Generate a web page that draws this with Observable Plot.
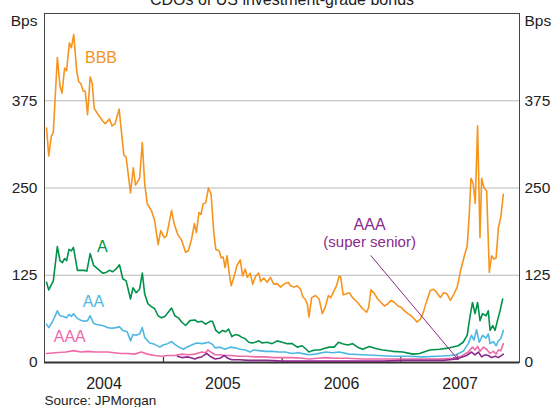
<!DOCTYPE html>
<html>
<head>
<meta charset="utf-8">
<script src="https://cdn.jsdelivr.net/npm/d3@7"></script>
<script src="https://cdn.jsdelivr.net/npm/@observablehq/plot@0.6"></script>
<style>
  html, body { margin: 0; padding: 0; background: #fff; }
  #chart svg { display: block; }
</style>
</head>
<body>
<div id="chart"></div>
<script>
// Decimal-year dates and spreads (bps)
const BBB = [[2004.017,336],[2004.036,296],[2004.057,324],[2004.074,330],[2004.108,437],[2004.130,396],[2004.147,386],[2004.169,422],[2004.186,418],[2004.209,458],[2004.226,451],[2004.246,470],[2004.271,417],[2004.288,402],[2004.305,400],[2004.325,389],[2004.342,389],[2004.362,355],[2004.384,409],[2004.401,400],[2004.418,364],[2004.447,356],[2004.489,346],[2004.511,342],[2004.545,349],[2004.568,339],[2004.593,342],[2004.627,363],[2004.667,297],[2004.686,294],[2004.723,243],[2004.746,279],[2004.765,254],[2004.799,264],[2004.822,315],[2004.842,256],[2004.864,227],[2004.898,218],[2004.926,203],[2004.955,169],[2004.977,189],[2005.006,179],[2005.025,181],[2005.045,198],[2005.068,218],[2005.091,198],[2005.119,184],[2005.153,175],[2005.186,158],[2005.209,160],[2005.237,177],[2005.260,199],[2005.277,186],[2005.299,215],[2005.316,212],[2005.333,227],[2005.356,229],[2005.379,250],[2005.401,241],[2005.424,186],[2005.441,162],[2005.469,160],[2005.486,150],[2005.503,151],[2005.519,136],[2005.536,153],[2005.553,129],[2005.570,110],[2005.593,122],[2005.619,139],[2005.647,147],[2005.667,124],[2005.689,134],[2005.706,122],[2005.731,128],[2005.752,112],[2005.774,123],[2005.803,128],[2005.819,116],[2005.845,121],[2005.873,115],[2005.901,122],[2005.930,112],[2005.958,113],[2005.986,108],[2006.014,112],[2006.051,115],[2006.070,110],[2006.099,108],[2006.127,110],[2006.155,105],[2006.175,94],[2006.192,91],[2006.212,84],[2006.226,65],[2006.248,93],[2006.282,96],[2006.311,91],[2006.339,70],[2006.362,79],[2006.390,96],[2006.409,93],[2006.438,103],[2006.458,110],[2006.481,124],[2006.494,122],[2006.514,97],[2006.536,98],[2006.565,100],[2006.593,93],[2006.636,86],[2006.678,77],[2006.712,72],[2006.729,79],[2006.748,104],[2006.777,99],[2006.805,91],[2006.833,86],[2006.862,81],[2006.890,84],[2006.918,89],[2006.947,86],[2006.975,81],[2007.003,79],[2007.031,74],[2007.059,70],[2007.087,67],[2007.116,62],[2007.136,58],[2007.164,62],[2007.186,70],[2007.220,89],[2007.248,103],[2007.277,105],[2007.305,100],[2007.333,93],[2007.362,100],[2007.390,98],[2007.418,89],[2007.447,98],[2007.475,108],[2007.503,131],[2007.531,150],[2007.559,167],[2007.576,210],[2007.591,264],[2007.610,256],[2007.627,228],[2007.647,339],[2007.667,179],[2007.681,264],[2007.701,250],[2007.723,246],[2007.746,129],[2007.765,153],[2007.786,148],[2007.803,150],[2007.822,193],[2007.842,208],[2007.864,241]];

const A = [[2004.017,115],[2004.036,104],[2004.074,117],[2004.108,166],[2004.130,146],[2004.150,143],[2004.169,149],[2004.186,146],[2004.206,162],[2004.226,160],[2004.243,165],[2004.277,132],[2004.305,132],[2004.333,132],[2004.356,131],[2004.384,156],[2004.413,139],[2004.447,134],[2004.489,128],[2004.517,129],[2004.545,132],[2004.574,130],[2004.602,134],[2004.630,140],[2004.658,120],[2004.686,117],[2004.723,91],[2004.743,107],[2004.771,100],[2004.799,105],[2004.822,128],[2004.842,98],[2004.870,84],[2004.898,80],[2004.926,77],[2004.955,67],[2004.983,64],[2005.011,66],[2005.040,72],[2005.068,78],[2005.096,67],[2005.125,64],[2005.153,58],[2005.186,53],[2005.223,60],[2005.265,61],[2005.288,58],[2005.322,59],[2005.356,55],[2005.392,59],[2005.413,59],[2005.441,46],[2005.469,42],[2005.497,46],[2005.525,44],[2005.548,48],[2005.576,37],[2005.604,40],[2005.633,39],[2005.661,36],[2005.689,34],[2005.718,29],[2005.746,28],[2005.774,29],[2005.803,31],[2005.831,28],[2005.873,29],[2005.915,27],[2005.958,31],[2006.000,29],[2006.042,27],[2006.085,27],[2006.127,22],[2006.169,24],[2006.203,19],[2006.226,15],[2006.254,17],[2006.282,18],[2006.316,18],[2006.353,20],[2006.396,22],[2006.438,22],[2006.475,29],[2006.508,27],[2006.551,25],[2006.593,27],[2006.636,22],[2006.678,19],[2006.735,23],[2006.788,20],[2006.847,18],[2006.932,16],[2007.017,15],[2007.102,12],[2007.158,13],[2007.243,18],[2007.328,19],[2007.413,21],[2007.483,24],[2007.525,29],[2007.559,39],[2007.582,65],[2007.604,86],[2007.625,70],[2007.647,86],[2007.667,60],[2007.689,70],[2007.718,67],[2007.737,74],[2007.752,46],[2007.774,53],[2007.794,46],[2007.814,60],[2007.836,74],[2007.858,91]];

const AA = [[2004.017,55],[2004.036,50],[2004.065,58],[2004.085,65],[2004.108,74],[2004.130,67],[2004.158,66],[2004.186,64],[2004.206,69],[2004.226,66],[2004.243,70],[2004.271,64],[2004.299,61],[2004.333,59],[2004.362,60],[2004.384,67],[2004.413,56],[2004.447,54],[2004.489,53],[2004.531,50],[2004.565,49],[2004.602,50],[2004.630,51],[2004.658,46],[2004.695,44],[2004.723,31],[2004.743,40],[2004.771,39],[2004.799,41],[2004.822,50],[2004.842,36],[2004.884,28],[2004.926,26],[2004.969,22],[2004.997,25],[2005.034,27],[2005.068,30],[2005.096,26],[2005.130,22],[2005.167,19],[2005.209,23],[2005.252,26],[2005.280,28],[2005.328,27],[2005.379,29],[2005.413,26],[2005.435,21],[2005.477,22],[2005.519,19],[2005.562,22],[2005.604,21],[2005.647,19],[2005.689,18],[2005.731,15],[2005.760,18],[2005.805,17],[2005.858,16],[2005.915,16],[2005.972,15],[2006.025,15],[2006.085,13],[2006.136,14],[2006.197,12],[2006.226,11],[2006.280,12],[2006.367,15],[2006.424,14],[2006.481,15],[2006.565,12],[2006.678,11],[2006.805,10],[2006.932,9],[2007.059,9],[2007.186,8],[2007.314,9],[2007.415,10],[2007.466,11],[2007.525,16],[2007.568,27],[2007.596,39],[2007.616,32],[2007.638,47],[2007.661,29],[2007.689,39],[2007.718,35],[2007.737,41],[2007.752,27],[2007.780,30],[2007.803,24],[2007.822,31],[2007.842,34],[2007.864,46]];

const AAA = [[2004.017,13],[2004.093,14],[2004.178,15],[2004.248,17],[2004.305,15],[2004.362,16],[2004.432,15],[2004.531,15],[2004.585,14],[2004.644,13],[2004.703,13],[2004.757,12],[2004.814,15],[2004.864,12],[2004.926,10],[2004.983,9],[2005.034,10],[2005.096,10],[2005.153,12],[2005.209,11],[2005.263,12],[2005.322,15],[2005.356,14],[2005.373,18],[2005.398,15],[2005.435,11],[2005.475,11],[2005.519,10],[2005.576,10],[2005.633,9],[2005.703,9],[2005.771,8],[2005.858,8],[2005.932,7],[2006.000,7],[2006.085,7],[2006.169,6],[2006.226,5],[2006.297,6],[2006.367,7],[2006.449,6],[2006.551,6],[2006.678,5],[2006.805,5],[2006.932,5],[2007.059,5],[2007.186,5],[2007.314,5],[2007.441,6],[2007.511,9],[2007.568,15],[2007.604,22],[2007.625,18],[2007.647,23],[2007.667,16],[2007.695,22],[2007.723,19],[2007.752,13],[2007.780,16],[2007.803,12],[2007.822,18],[2007.842,17],[2007.864,27]];

const SUPER_SENIOR = [[2005.119,9],[2005.153,7],[2005.209,8],[2005.265,5],[2005.294,7],[2005.322,8],[2005.364,13],[2005.392,9],[2005.435,5],[2005.475,6],[2005.514,10],[2005.542,6],[2005.576,4],[2005.644,4],[2005.718,3],[2005.788,3],[2005.873,3],[2006.000,2],[2006.169,2],[2006.339,2],[2006.508,2],[2006.678,2],[2006.847,2],[2007.017,3],[2007.186,3],[2007.356,3],[2007.469,5],[2007.554,10],[2007.596,15],[2007.625,11],[2007.653,15],[2007.681,8],[2007.709,11],[2007.737,10],[2007.765,7],[2007.797,9],[2007.822,7],[2007.864,12]];

const yTicks = [0, 125, 250, 375];
const years = [2004, 2005, 2006, 2007];
const seriesNames = ["BBB", "A", "AA", "AAA", "AAA (super senior)"];
const seriesColors = ["#f7941d", "#00924a", "#4fb7e3", "#ef6aa8", "#8c2a8d"];

// Label anchors (decimal year, bps)
const labels = [
  {t: 2004.475, v: 437, text: "BBB", c: 0, size: 16},
  {t: 2004.487, v: 166, text: "A", c: 1, size: 16},
  {t: 2004.411, v: 87, text: "AA", c: 2, size: 16},
  {t: 2004.212, v: 36, text: "AAA", c: 3, size: 16},
  {t: 2006.737, v: 197, text: "AAA", c: 4, size: 16},
  {t: 2006.737, v: 172, text: "(super senior)", c: 4, size: 15}
];
const arrowFrom = [2006.748, 153];
const arrowTo = [2007.483, 4];

const toDate = t => {
  const y = Math.floor(t);
  const s = Date.UTC(y, 0, 1), e = Date.UTC(y + 1, 0, 1);
  return new Date(s + (t - y) * (e - s));
};
const toRows = (arr, name) => arr.map(([t, v]) => ({date: toDate(t), value: v, series: name}));
const allSeries = [BBB, A, AA, AAA, SUPER_SENIOR];

const yearStarts = years.slice(1).map(y => toDate(y));
const yearMids = years.map(y => toDate(y + 0.5));

const font = "'Liberation Sans', Arial, sans-serif";

const marks = [
  Plot.gridY([125, 250, 375], {stroke: "#b9b9b9", strokeOpacity: 1, strokeWidth: 1}),
  Plot.axisY(yTicks, {anchor: "left", tickSize: 0, tickPadding: 7, label: null, fontSize: 15.5, fill: "#222"}),
  Plot.axisY(yTicks, {anchor: "right", tickSize: 0, tickPadding: 5, label: null, fontSize: 15.5, fill: "#222"}),
  Plot.axisX(yearStarts, {anchor: "bottom", tickSize: 5, dy: -5, tickFormat: () => "", label: null, stroke: "#333", strokeWidth: 1.2}),
  Plot.axisX(yearMids, {anchor: "bottom", tickSize: 0, tickPadding: 15, tickFormat: d => String(d.getUTCFullYear()), label: null, fontSize: 16, fill: "#222"}),
  Plot.frame({stroke: "#444", strokeWidth: 1}),
  Plot.ruleY([0], {stroke: "#333", strokeWidth: 2})
];

allSeries.forEach((arr, i) => {
  marks.push(Plot.line(toRows(arr, seriesNames[i]), {x: "date", y: "value", stroke: seriesColors[i], strokeWidth: 1.6}));
});

labels.forEach(l => {
  marks.push(Plot.text([l], {x: d => toDate(d.t), y: "v", text: "text", fill: seriesColors[l.c], fontSize: l.size}));
});

marks.push(Plot.arrow([{x1: toDate(arrowFrom[0]), y1: arrowFrom[1], x2: toDate(arrowTo[0]), y2: arrowTo[1]}],
  {x1: "x1", y1: "y1", x2: "x2", y2: "y2", stroke: seriesColors[4], strokeWidth: 1, headLength: 8, headAngle: 50}));

marks.push(
  Plot.text(["CDOs of US investment-grade bonds"], {frameAnchor: "top", dy: -9, lineAnchor: "bottom", fontSize: 16, fill: "#222"}),
  Plot.text(["Bps"], {frameAnchor: "top-left", dx: -7, dy: 12, lineAnchor: "bottom", textAnchor: "end", fontSize: 15.5, fill: "#222"}),
  Plot.text(["Bps"], {frameAnchor: "top-right", dx: 5, dy: 12, lineAnchor: "bottom", textAnchor: "start", fontSize: 15.5, fill: "#222"}),
  Plot.text(["Source: JPMorgan"], {frameAnchor: "bottom-left", dy: 42, lineAnchor: "bottom", textAnchor: "start", fontSize: 13.5, fill: "#222"})
);

const chart = Plot.plot({
  width: 557,
  height: 407,
  marginLeft: 44,
  marginRight: 38,
  marginTop: 13,
  marginBottom: 45,
  style: {fontFamily: font, background: "#fff", overflow: "hidden"},
  x: {type: "utc", domain: [toDate(2004), toDate(2008)]},
  y: {domain: [0, 500]},
  marks
});
document.getElementById("chart").appendChild(chart);
</script>
</body>
</html>
